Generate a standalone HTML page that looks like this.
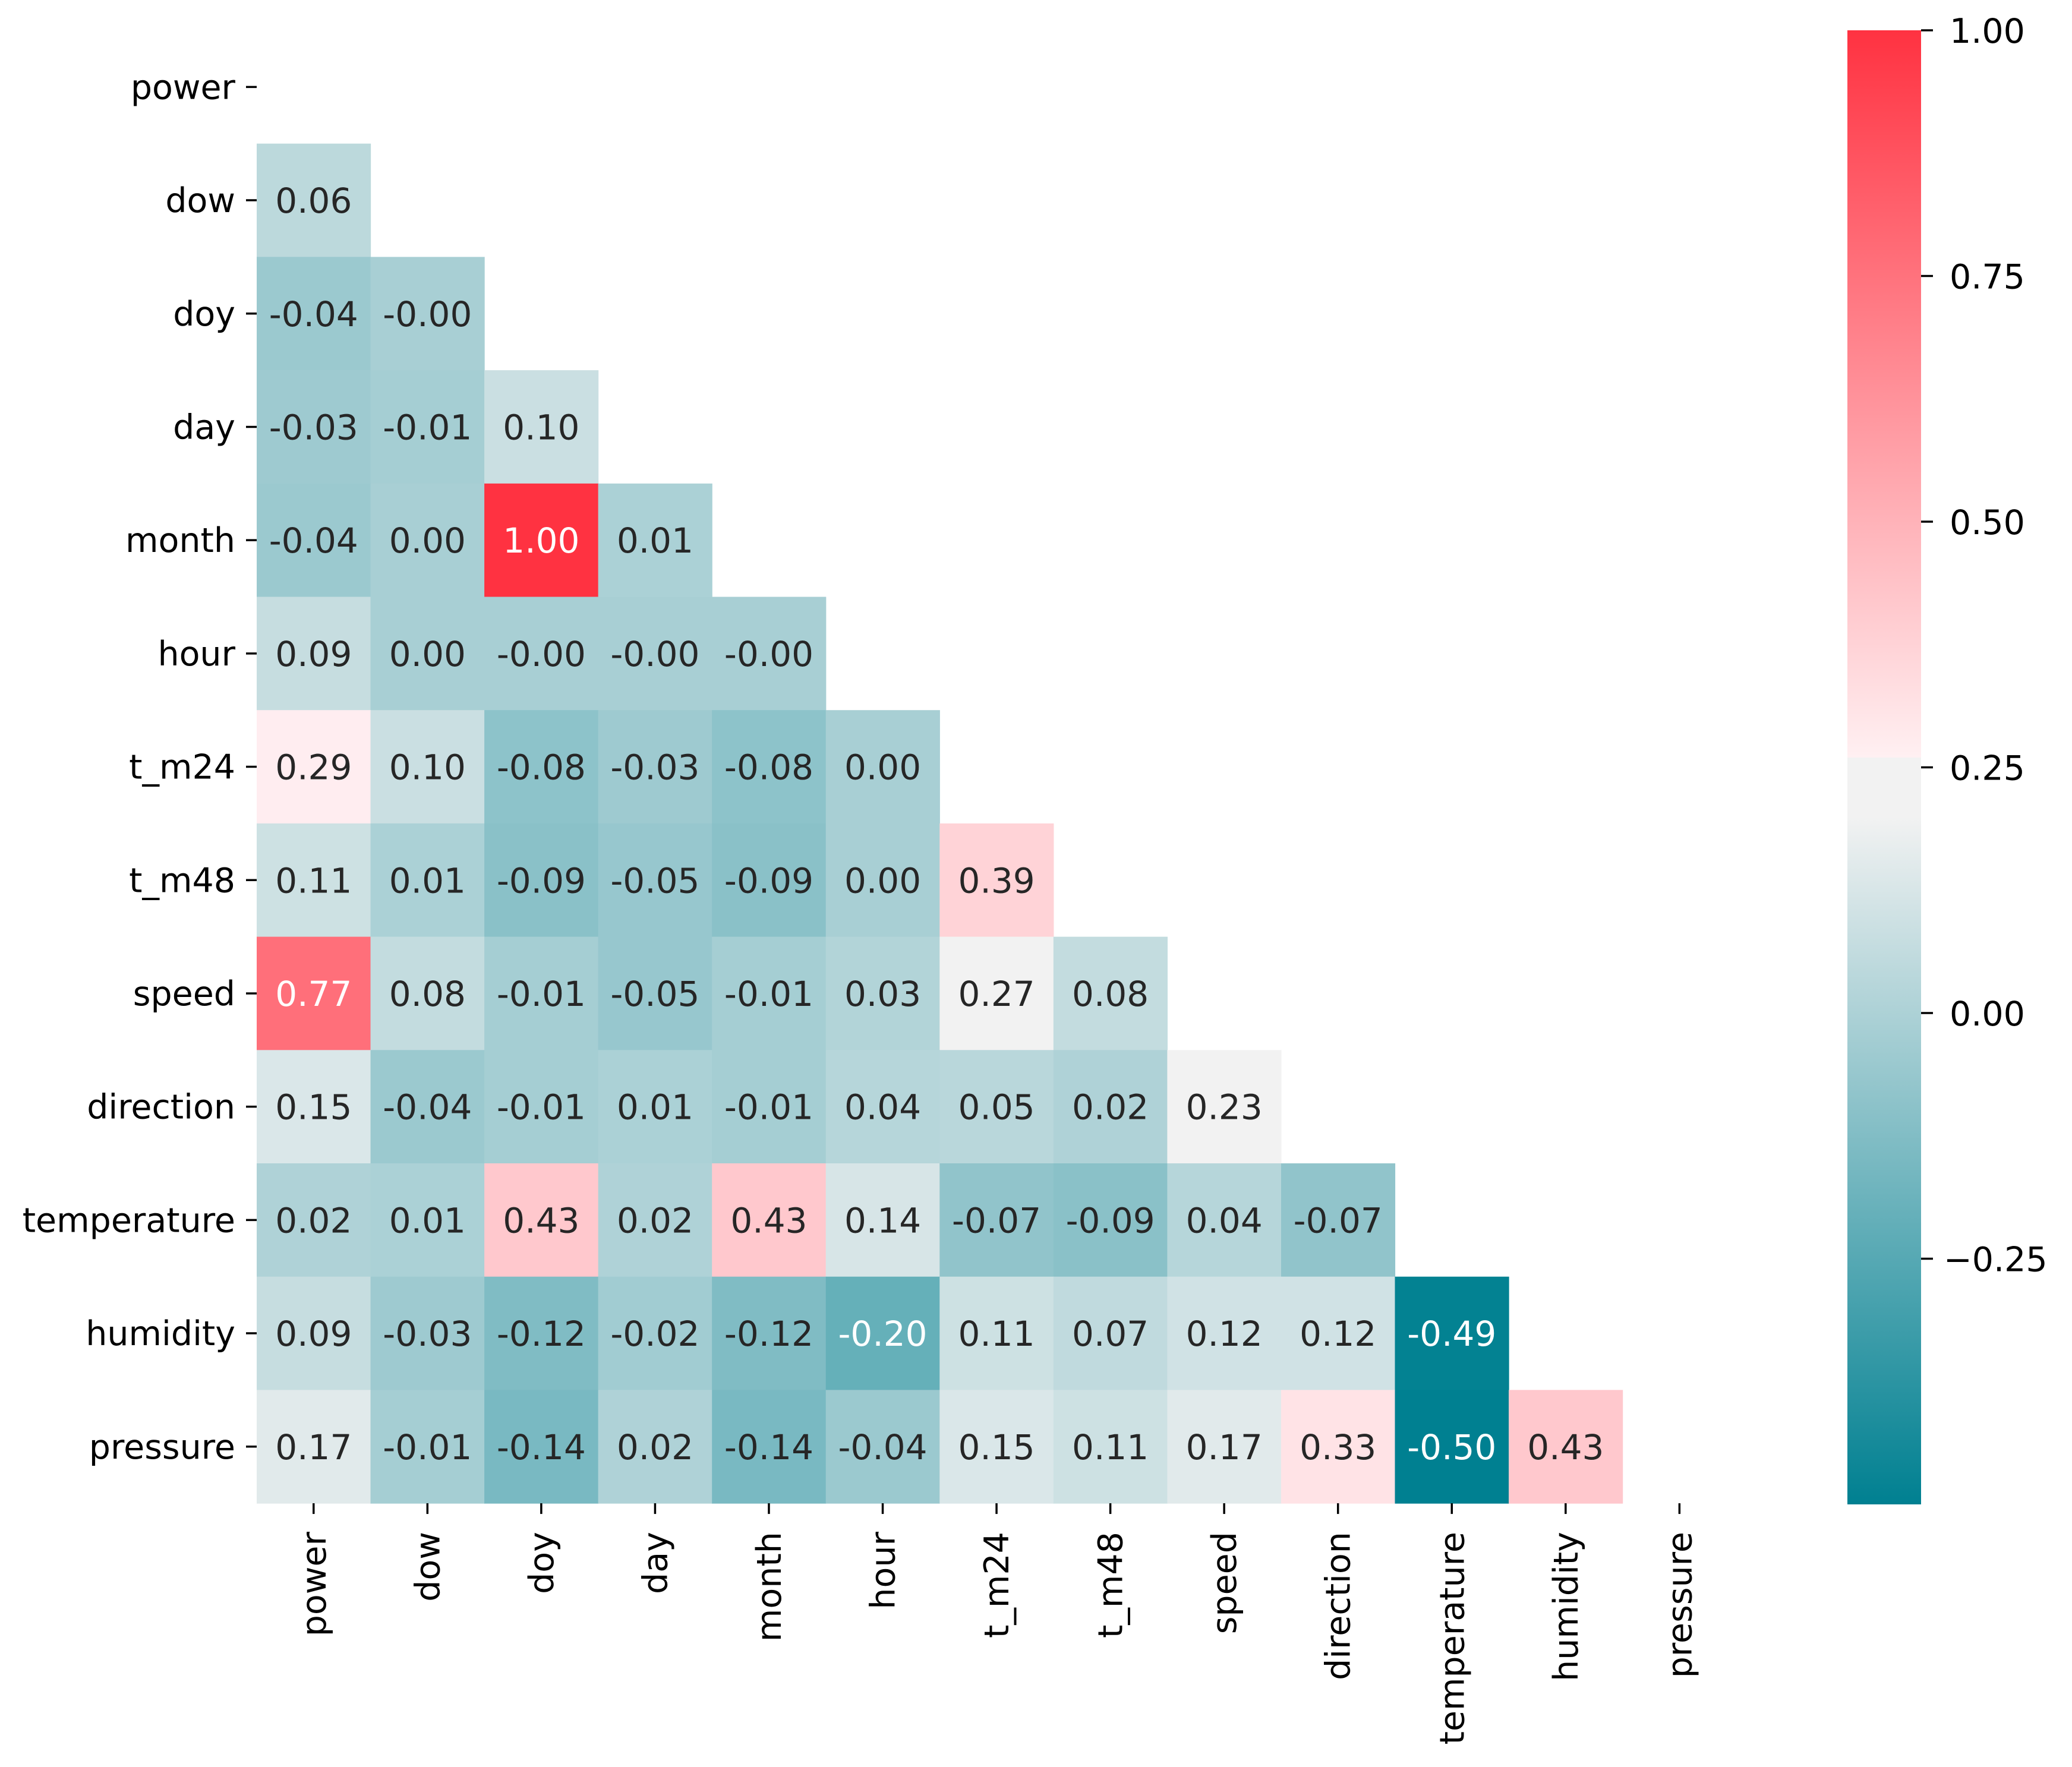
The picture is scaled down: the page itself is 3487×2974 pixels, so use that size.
<!DOCTYPE html>
<html>
<head>
<meta charset="utf-8">
<style>
html,body{margin:0;padding:0;background:#fff;}
svg{display:block;}
text{font-family:"DejaVu Sans","Liberation Sans",sans-serif;}
</style>
</head>
<body>
<svg id="chart" width="3487" height="2974" viewBox="0 0 3487 2974" xmlns="http://www.w3.org/2000/svg">
  <defs>
    <linearGradient id="cbgrad" x1="0" y1="1" x2="0" y2="0">
      <stop offset="0" stop-color="rgb(0,128,145)"/>
      <stop offset="0.4667" stop-color="rgb(242,242,242)"/>
      <stop offset="0.5067" stop-color="rgb(242,242,242)"/>
      <stop offset="0.5067" stop-color="rgb(255,240,242)"/>
      <stop offset="1" stop-color="rgb(255,50,65)"/>
    </linearGradient>
  </defs>
  <g id="cells"></g>
  <g id="yaxis"></g>
  <g id="xaxis"></g>
  <g id="colorbar"></g>
</svg>
<script>
const labels = ["power","dow","doy","day","month","hour","t_m24","t_m48","speed","direction","temperature","humidity","pressure"];
const row1 = ["0.06"];
const row2 = ["-0.04","-0.00"];
const row3 = ["-0.03","-0.01","0.10"];
const row4 = ["-0.04","0.00","1.00","0.01"];
const row5 = ["0.09","0.00","-0.00","-0.00","-0.00"];
const row6 = ["0.29","0.10","-0.08","-0.03","-0.08","0.00"];
const row7 = ["0.11","0.01","-0.09","-0.05","-0.09","0.00","0.39"];
const row8 = ["0.77","0.08","-0.01","-0.05","-0.01","0.03","0.27","0.08"];
const row9 = ["0.15","-0.04","-0.01","0.01","-0.01","0.04","0.05","0.02","0.23"];
const row10 = ["0.02","0.01","0.43","0.02","0.43","0.14","-0.07","-0.09","0.04","-0.07"];
const row11 = ["0.09","-0.03","-0.12","-0.02","-0.12","-0.20","0.11","0.07","0.12","0.12","-0.49"];
const row12 = ["0.17","-0.01","-0.14","0.02","-0.14","-0.04","0.15","0.11","0.17","0.33","-0.50","0.43"];
const rows = [[],row1,row2,row3,row4,row5,row6,row7,row8,row9,row10,row11,row12];
const cbTicks = [1.00,0.75,0.50,0.25,0.00,-0.25];
const cbTickLabels = ["1.00","0.75","0.50","0.25","0.00","\u22120.25"];
const vmin = -0.50, vmax = 1.00;

const NS = "http://www.w3.org/2000/svg";
const X0 = 432, Y0 = 51, CW = 191.55, CH = 190.7;
const xPos = i => X0 + i*CW;
const yPos = j => Y0 + j*CH;
const CBX = 3109, CBW = 124, CBTOP = 51, CBBOT = 2532;
const cbY = v => CBBOT - (v - vmin)/(vmax - vmin)*(CBBOT - CBTOP);

function lerp(a,b,t){return [0,1,2].map(k=>Math.round(a[k]+(b[k]-a[k])*t));}
function color(v){
  const lo=[0,128,145], mid=[242,242,242], pl=[255,240,242], hi=[255,50,65];
  const c1=0.22, c2=0.28;
  let c;
  if(v<=c1){c=lerp(lo,mid,Math.max(0,(v-vmin)/(c1-vmin)));}
  else if(v<c2){c=mid;}
  else {c=lerp(pl,hi,Math.min(1,(v-c2)/(vmax-c2)));}
  return "rgb("+c.join(",")+")";
}
function mk(tag, attrs, parent){
  const e=document.createElementNS(NS,tag);
  for(const k in attrs) e.setAttribute(k,attrs[k]);
  parent.appendChild(e); return e;
}
const cells=document.getElementById('cells');
rows.forEach((r,j)=>{
  r.forEach((s,i)=>{
    const v=parseFloat(s);
    const rect=mk('rect',{x:xPos(i),y:yPos(j),width:CW+0.6,height:CH+0.6,fill:color(v)},cells);
    
    
    const t=mk('text',{x:xPos(i)+CW/2,y:yPos(j)+CH/2+21,'text-anchor':'middle','font-size':'58',fill:(v>0.6||v<-0.17)?'#fff':'#262626'},cells);
    
    
    t.textContent=s;
  });
});
const ya=document.getElementById('yaxis');
labels.forEach((l,j)=>{
  const yc=yPos(j)+CH/2;
  const tk=mk('line',{x1:X0-18,x2:X0,y1:yc,y2:yc,stroke:'#000','stroke-width':'3.5'},ya);
  
  
  const t=mk('text',{x:X0-36,y:yc+20,'text-anchor':'end','font-size':'57',fill:'#000'},ya);
  
  
  t.textContent=l;
});
const xa=document.getElementById('xaxis');
const XB = Y0 + 13*CH;
labels.forEach((l,i)=>{
  const xc=xPos(i)+CW/2;
  const tk=mk('line',{x1:xc,x2:xc,y1:XB,y2:XB+18,stroke:'#000','stroke-width':'3.5'},xa);
  
  
  const t=mk('text',{x:0,y:0,'text-anchor':'end','font-size':'57',fill:'#000',transform:'translate('+(xc+20)+','+(XB+48)+') rotate(-90)'},xa);
  
  
  t.textContent=l;
});
const cb=document.getElementById('colorbar');
const bar=mk('rect',{x:CBX,y:CBTOP,width:CBW,height:CBBOT-CBTOP,fill:'url(#cbgrad)'},cb);


cbTicks.forEach((v,k)=>{
  const y=cbY(v);
  const tk=mk('line',{x1:CBX+CBW,x2:CBX+CBW+20,y1:y,y2:y,stroke:'#000','stroke-width':'3.5'},cb);
  
  
  const t=mk('text',{x:CBX+CBW+(v<0?38:48),y:y+21,'font-size':'57',fill:'#000'},cb);
  
  
  t.textContent=cbTickLabels[k];
});
</script>
</body>
</html>
